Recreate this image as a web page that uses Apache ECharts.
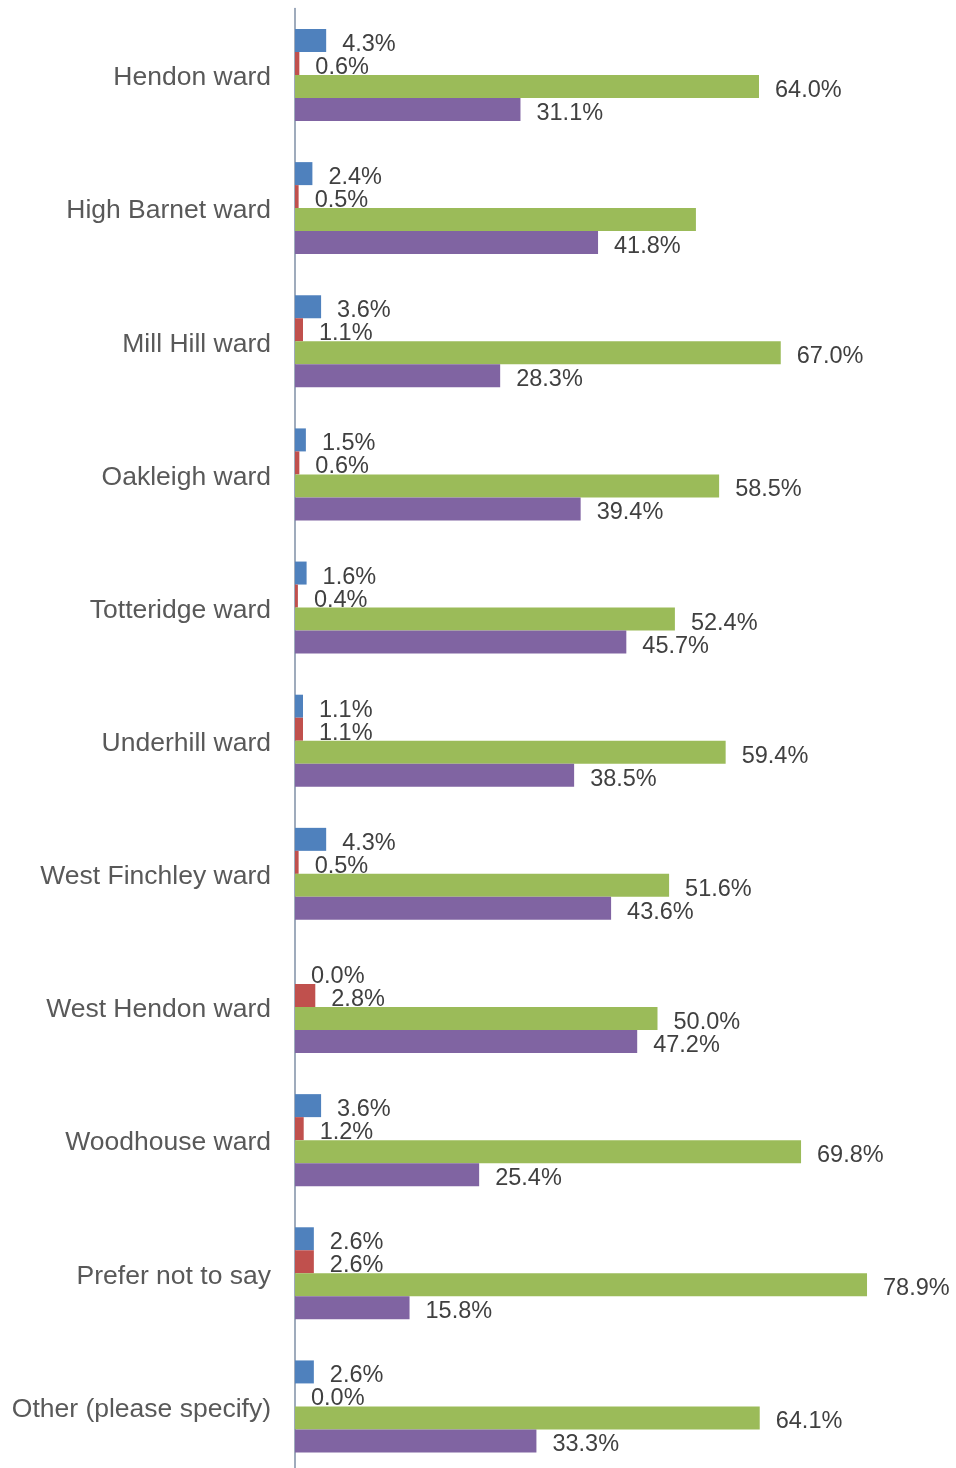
<!DOCTYPE html>
<html lang="en">
<head>
  <meta charset="UTF-8">
  <title>Ward breakdown</title>
  <script src="https://cdn.jsdelivr.net/npm/echarts@6/dist/echarts.min.js"></script>
  <style>
    html, body { margin: 0; padding: 0; background: #ffffff; overflow: hidden; }
    /* the plot runs a few pixels past the bottom edge of the picture */
    #chart { width: 956px; height: 1473px; }
  </style>
</head>
<body>
  <div id="chart"></div>
  <script>
    var wards = [
      'Hendon ward', 'High Barnet ward', 'Mill Hill ward', 'Oakleigh ward',
      'Totteridge ward', 'Underhill ward', 'West Finchley ward', 'West Hendon ward',
      'Woodhouse ward', 'Prefer not to say', 'Other (please specify)'
    ];
    var blueValues   = [4.3, 2.4, 3.6, 1.5, 1.6, 1.1, 4.3, 0.0, 3.6, 2.6, 2.6];
    var redValues    = [0.6, 0.5, 1.1, 0.6, 0.4, 1.1, 0.5, 2.8, 1.2, 2.6, 0.0];
    var greenValues  = [64.0, 55.3, 67.0, 58.5, 52.4, 59.4, 51.6, 50.0, 69.8, 78.9, 64.1];
    var purpleValues = [31.1, 41.8, 28.3, 39.4, 45.7, 38.5, 43.6, 47.2, 25.4, 15.8, 33.3];
    // the green High Barnet label is not shown in the original
    var hiddenGreen = ['High Barnet ward'];

    var chart = echarts.init(document.getElementById('chart'));

    function makeSeries(name, color, values, hidden) {
      return {
        name: name,
        type: 'bar',
        barWidth: 23,
        barGap: '0%',
        itemStyle: { color: color },
        label: {
          show: true,
          position: 'right',
          distance: 16,
          offset: [0, 4],
          color: '#404040',
          fontSize: 23.5,
          fontFamily: 'Liberation Sans, Arial, sans-serif',
          formatter: function (p) { return p.value.toFixed(1) + '%'; }
        },
        data: values.map(function (v, i) {
          if (hidden && hidden.indexOf(wards[i]) >= 0) {
            return { value: v, label: { show: false } };
          }
          return v;
        })
      };
    }

    chart.setOption({
      animation: false,
      grid: { left: 295, right: 8.5, top: 8.4, bottom: 0 },
      xAxis: {
        type: 'value',
        min: 0,
        max: 90,
        show: false
      },
      yAxis: {
        type: 'category',
        inverse: true,
        data: wards,
        axisLine: { show: true, lineStyle: { color: '#7F8FA6', width: 1.5 } },
        axisTick: { show: false },
        axisLabel: {
          color: '#595959',
          fontSize: 26.5,
          margin: 24,
          fontFamily: 'Liberation Sans, Arial, sans-serif',
          formatter: function (v) { return '{w|' + v + '}'; },
          rich: {
            w: {
              color: '#595959',
              fontSize: 26.5,
              fontFamily: 'Liberation Sans, Arial, sans-serif',
              padding: [6, 0, 0, 0]
            }
          }
        }
      },
      series: [
        makeSeries('Blue', '#4F81BD', blueValues),
        makeSeries('Red', '#C0504D', redValues),
        makeSeries('Green', '#9BBB59', greenValues, hiddenGreen),
        makeSeries('Purple', '#8064A2', purpleValues)
      ]
    });
  </script>
</body>
</html>
